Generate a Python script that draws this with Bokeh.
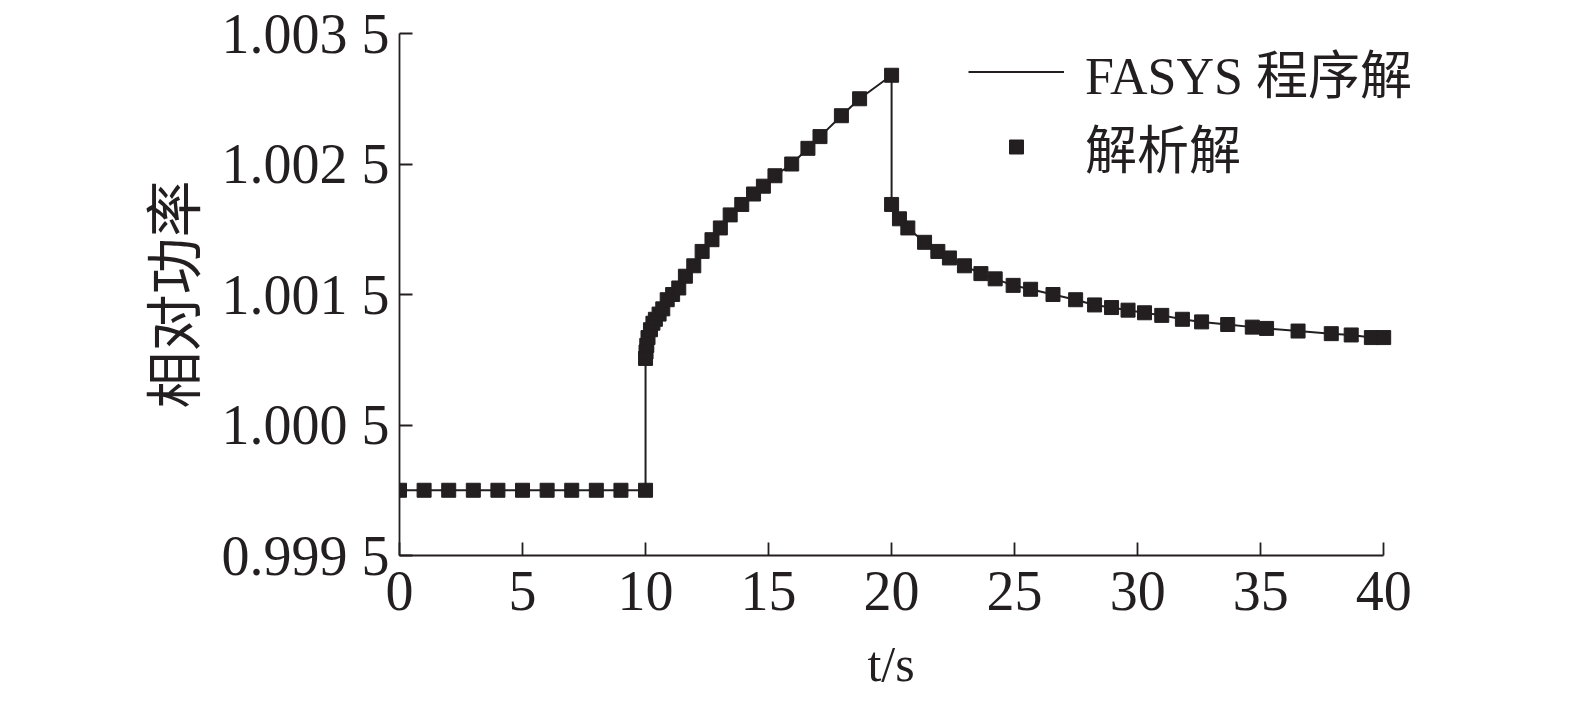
from bokeh.plotting import figure
from bokeh.models import Range1d, FixedTicker, Legend, LegendItem
from bokeh.embed import file_html
from bokeh.resources import INLINE

# ---- data ----
t_flat = [0, 1, 2, 3, 4, 5, 6, 7, 8, 9, 10]
v_flat = [1.0] * 11

t_rise = [10.0, 10.02, 10.05, 10.1, 10.2, 10.3, 10.4, 10.55, 10.7, 10.88, 11.1, 11.35,
          11.62, 11.96, 12.3, 12.7, 13.04, 13.44, 13.91, 14.39, 14.79, 15.26, 15.94,
          16.6, 17.09, 17.96, 18.7, 20.0]
v_rise = [1.00101, 1.00106, 1.00111, 1.00117, 1.00123, 1.00128, 1.00131, 1.00135,
          1.00139, 1.00146, 1.00150, 1.00155, 1.00164, 1.00172, 1.00183, 1.00192,
          1.00201, 1.00211, 1.00219, 1.00227, 1.00233, 1.00241, 1.00250, 1.00262,
          1.00271, 1.00287, 1.00300, 1.00318]

t_decay = [20.0, 20.32, 20.66, 21.34, 21.88, 22.35, 22.96, 23.63, 24.21, 24.94, 25.65,
           26.56, 27.48, 28.25, 28.94, 29.61, 30.28, 30.98, 31.82, 32.6, 33.66, 34.66,
           35.24, 36.52, 37.87, 38.68, 39.5, 40.0]
v_decay = [1.00219, 1.00208, 1.00201, 1.00190, 1.00183, 1.00178, 1.00172, 1.00166,
           1.00162, 1.00157, 1.00154, 1.00150, 1.00146, 1.00142, 1.00140, 1.00138,
           1.00136, 1.00134, 1.00131, 1.00129, 1.00127, 1.00125, 1.00124, 1.00122,
           1.00120, 1.00119, 1.00117, 1.00117]

t_all = t_flat + t_rise + t_decay
v_all = v_flat + v_rise + v_decay

x_ticks = [0, 5, 10, 15, 20, 25, 30, 35, 40]
y_ticks = [0.9995, 1.0005, 1.0015, 1.0025, 1.0035]
y_tick_labels = ["0.999 5", "1.000 5", "1.001 5", "1.002 5", "1.003 5"]

series_names = ["FASYS 程序解", "解析解"]
x_label = "t/s"
y_label = "相对功率"

INK = "#231f20"
SERIF = "Liberation Serif"
CJK = "Noto Sans CJK SC"

# the frame runs a little past t=40 so the legend (which extends beyond the axis end)
# is not clipped; the x axis itself is bounded to 0..40
p = figure(
    frame_width=1058, frame_height=522,
    min_border_left=399, min_border_right=118,
    min_border_top=33, min_border_bottom=149,
    x_range=Range1d(0, 43), y_range=Range1d(0.9995, 1.0035),
    output_backend="svg", toolbar_location=None,
)
p.outline_line_color = None
p.xgrid.grid_line_color = None
p.ygrid.grid_line_color = None
p.background_fill_color = "white"
p.border_fill_color = "white"

r_line = p.line(t_all, v_all, line_width=2, line_color=INK)
r_pts = p.scatter(t_all, v_all, marker="square", size=14,
                  fill_color=INK, line_color=INK)

for ax in (p.xaxis[0], p.yaxis[0]):
    ax.axis_line_color = INK
    ax.axis_line_width = 1.8
    ax.major_tick_line_color = INK
    ax.major_tick_line_width = 1.8
    ax.major_tick_in = 13
    ax.major_tick_out = 0
    ax.minor_tick_line_color = None
    ax.major_label_text_font = SERIF
    ax.major_label_text_font_size = "56px"
    ax.major_label_text_color = INK
    ax.axis_label_text_font_style = "normal"
    ax.axis_label_text_color = INK

p.xaxis[0].ticker = FixedTicker(ticks=x_ticks)
p.xaxis[0].bounds = (0, 40)
p.xaxis[0].major_label_standoff = 16
# trailing no-break spaces re-centre the label under t = 20 (frame is wider than the axis)
p.xaxis[0].axis_label = x_label + "\u00a0" * 6
p.xaxis[0].axis_label_text_font = SERIF
p.xaxis[0].axis_label_text_font_size = "50px"
p.xaxis[0].axis_label_standoff = 23

p.yaxis[0].ticker = FixedTicker(ticks=y_ticks)
p.yaxis[0].major_label_overrides = {k: s for k, s in zip(y_ticks, y_tick_labels)}
p.yaxis[0].major_label_standoff = 10
p.yaxis[0].axis_label = y_label
p.yaxis[0].axis_label_text_font = CJK
p.yaxis[0].axis_label_text_font_size = "57px"
p.yaxis[0].axis_label_standoff = 8

legend = Legend(
    items=[LegendItem(label=series_names[0], renderers=[r_line]),
           LegendItem(label=series_names[1], renderers=[r_pts])],
    location=(569, 371),
    label_text_font=SERIF + ", " + CJK,
    label_text_font_size="52px",
    label_text_color=INK,
    glyph_width=96, glyph_height=35,
    label_standoff=21, spacing=-7,
    padding=0, margin=0,
    border_line_color=None, background_fill_alpha=0,
)
p.add_layout(legend, "center")

open("out.html", "w").write(file_html(p, INLINE))
